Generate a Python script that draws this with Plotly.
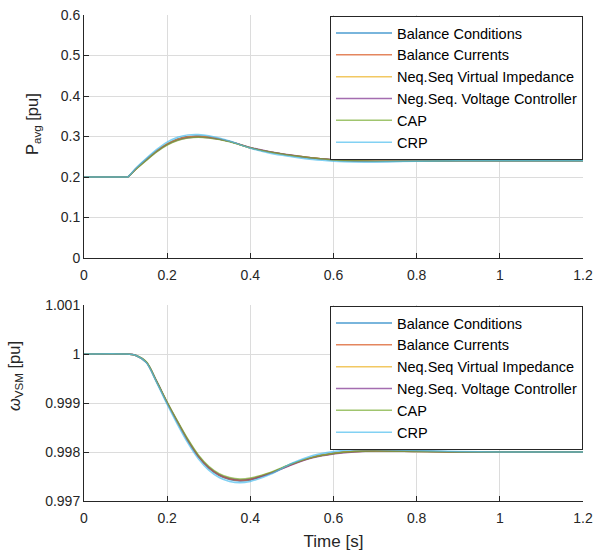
import plotly.graph_objects as go

# ---------------- data ----------------
series_names = ["Balance Conditions", "Balance Currents", "Neq.Seq Virtual Impedance",
                "Neg.Seq. Voltage Controller", "CAP", "CRP"]
series_colors = ["#0072BD", "#D95319", "#EDB120", "#7E2F8E", "#77AC30", "#4DBEEE"]

t_p = [0, 0.1, 0.105, 0.125, 0.15, 0.175, 0.2, 0.225, 0.25, 0.275, 0.3, 0.35, 0.4,
       0.45, 0.5, 0.55, 0.6, 0.65, 0.7, 0.8, 0.9, 1.0, 1.1, 1.2]
p_balance_conditions = [0.2, 0.2, 0.2, 0.221, 0.244, 0.265, 0.282, 0.294, 0.300, 0.301, 0.299, 0.288, 0.272,
                        0.261, 0.253, 0.246, 0.242, 0.239, 0.238, 0.239, 0.240, 0.240, 0.240, 0.240]
p_balance_currents = [0.2, 0.2, 0.2, 0.220, 0.243, 0.264, 0.281, 0.293, 0.299, 0.300, 0.298, 0.288, 0.272,
                      0.261, 0.253, 0.247, 0.242, 0.240, 0.239, 0.239, 0.240, 0.240, 0.240, 0.240]
p_neq_virtual_imp = [0.2, 0.2, 0.2, 0.220, 0.243, 0.264, 0.281, 0.292, 0.298, 0.300, 0.298, 0.288, 0.272,
                     0.261, 0.253, 0.247, 0.242, 0.240, 0.239, 0.239, 0.240, 0.240, 0.240, 0.240]
p_neg_voltage_ctrl = [0.2, 0.2, 0.2, 0.220, 0.242, 0.263, 0.280, 0.291, 0.297, 0.299, 0.297, 0.288, 0.273,
                      0.262, 0.254, 0.247, 0.243, 0.240, 0.239, 0.239, 0.240, 0.240, 0.240, 0.240]
p_cap = [0.2, 0.2, 0.2, 0.219, 0.241, 0.262, 0.279, 0.290, 0.296, 0.298, 0.296, 0.287, 0.272,
         0.261, 0.253, 0.247, 0.242, 0.240, 0.239, 0.239, 0.240, 0.240, 0.240, 0.240]
p_crp = [0.2, 0.2, 0.2, 0.222, 0.246, 0.268, 0.286, 0.298, 0.304, 0.305, 0.302, 0.289, 0.271,
         0.258, 0.250, 0.243, 0.239, 0.237, 0.237, 0.239, 0.240, 0.240, 0.240, 0.240]

t_w = [0, 0.1, 0.125, 0.15, 0.175, 0.2, 0.225, 0.25, 0.275, 0.3, 0.325, 0.35, 0.375, 0.4,
       0.45, 0.5, 0.55, 0.6, 0.65, 0.7, 0.8, 0.9, 1.0, 1.1, 1.2]
w_balance_conditions = [1.0, 1.0, 0.99997, 0.99983, 0.99943, 0.99900, 0.99860, 0.99822, 0.99790, 0.99767,
                        0.99752, 0.99744, 0.99741, 0.99743, 0.99757, 0.99776, 0.99790, 0.99798, 0.99802,
                        0.99803, 0.99802, 0.99800, 0.99800, 0.99800, 0.99800]
w_balance_currents = [1.0, 1.0, 0.99997, 0.99983, 0.99943, 0.99900, 0.99861, 0.99823, 0.99791, 0.99768,
                      0.99753, 0.99745, 0.99742, 0.99744, 0.99757, 0.99775, 0.99789, 0.99797, 0.99801,
                      0.99802, 0.99802, 0.99800, 0.99800, 0.99800, 0.99800]
w_neq_virtual_imp = [1.0, 1.0, 0.99997, 0.99983, 0.99943, 0.99901, 0.99861, 0.99824, 0.99792, 0.99769,
                     0.99754, 0.99746, 0.99743, 0.99745, 0.99758, 0.99775, 0.99789, 0.99797, 0.99801,
                     0.99802, 0.99801, 0.99800, 0.99800, 0.99800, 0.99800]
w_neg_voltage_ctrl = [1.0, 1.0, 0.99997, 0.99983, 0.99944, 0.99901, 0.99862, 0.99824, 0.99792, 0.99769,
                      0.99754, 0.99746, 0.99743, 0.99745, 0.99757, 0.99774, 0.99788, 0.99796, 0.99800,
                      0.99802, 0.99801, 0.99800, 0.99800, 0.99800, 0.99800]
w_cap = [1.0, 1.0, 0.99997, 0.99984, 0.99944, 0.99902, 0.99863, 0.99826, 0.99794, 0.99771,
         0.99756, 0.99748, 0.99745, 0.99747, 0.99759, 0.99776, 0.99789, 0.99797, 0.99801,
         0.99802, 0.99801, 0.99800, 0.99800, 0.99800, 0.99800]
w_crp = [1.0, 1.0, 0.99997, 0.99982, 0.99941, 0.99897, 0.99856, 0.99818, 0.99786, 0.99763,
         0.99748, 0.99740, 0.99737, 0.99740, 0.99755, 0.99777, 0.99793, 0.99801, 0.99805,
         0.99805, 0.99803, 0.99801, 0.99800, 0.99800, 0.99800]

p_series = [p_balance_conditions, p_balance_currents, p_neq_virtual_imp, p_neg_voltage_ctrl, p_cap, p_crp]
w_series = [w_balance_conditions, w_balance_currents, w_neq_virtual_imp, w_neg_voltage_ctrl, w_cap, w_crp]

x_ticks = [0, 0.2, 0.4, 0.6, 0.8, 1.0, 1.2]
x_ticktext = ["0", "0.2", "0.4", "0.6", "0.8", "1", "1.2"]
p_ticks = [0, 0.1, 0.2, 0.3, 0.4, 0.5, 0.6]
p_ticktext = ["0", "0.1", "0.2", "0.3", "0.4", "0.5", "0.6"]
w_ticks = [0.997, 0.998, 0.999, 1.0, 1.001]
w_ticktext = ["0.997", "0.998", "0.999", "1", "1.001"]

p_title = "P<sub>avg</sub> [pu]"
w_title = "<i>ω</i><sub>VSM</sub> [pu]"
x_title = "Time [s]"

# ---------------- figure ----------------
FONT = "Liberation Sans, Arial, sans-serif"
W, H = 596, 553
ml, mr, mt, mb = 84, 13, 15, 52
ph = H - mt - mb
pw = W - ml - mr
def py(pix):
    return (H - mb - pix) / ph
def px(pix):
    return (pix - ml) / pw

fig = go.Figure()
for name, col, p in zip(series_names, series_colors, p_series):
    fig.add_trace(go.Scatter(x=t_p, y=p, name=name, mode="lines", opacity=0.7,
                             line=dict(color=col, width=1.5, shape="spline", smoothing=0.8),
                             xaxis="x", yaxis="y", legend="legend"))
for name, col, w in zip(series_names, series_colors, w_series):
    fig.add_trace(go.Scatter(x=t_w, y=w, name=name, mode="lines", opacity=0.7,
                             line=dict(color=col, width=1.5, shape="spline", smoothing=0.8),
                             xaxis="x2", yaxis="y2", legend="legend2"))

axis_common = dict(showgrid=True, gridcolor="#dcdcdc", gridwidth=1, zeroline=False,
                   showline=True, linecolor="#262626", linewidth=1, ticks="inside",
                   ticklen=5, tickcolor="#262626", tickfont=dict(family=FONT, size=14, color="#262626"))

legend_common = dict(x=1, xanchor="right", yanchor="top", bgcolor="white",
                     bordercolor="#262626", borderwidth=1,
                     font=dict(family=FONT, size=14.5, color="#000"),
                     itemwidth=56, tracegroupgap=0)

fig.update_layout(
    width=W, height=H,
    margin=dict(l=ml, r=mr, t=mt, b=mb, autoexpand=False),
    paper_bgcolor="white", plot_bgcolor="white",
    font=dict(family=FONT, color="#262626"),
    xaxis=dict(domain=[0, 1], range=[0, 1.2], tickvals=x_ticks, ticktext=x_ticktext,
               anchor="y", ticklabelstandoff=4, **axis_common),
    yaxis=dict(domain=[py(258), 1], range=[0, 0.6], tickvals=p_ticks, ticktext=p_ticktext,
               anchor="x", **axis_common),
    xaxis2=dict(domain=[0, 1], range=[0, 1.2], tickvals=x_ticks, ticktext=x_ticktext,
                anchor="y2", ticklabelstandoff=4,
                title=dict(text=x_title, font=dict(size=17, family=FONT), standoff=10),
                **axis_common),
    yaxis2=dict(domain=[0, py(305)], range=[0.997, 1.001], tickvals=w_ticks, ticktext=w_ticktext,
                anchor="x2", **axis_common),
    legend=dict(y=py(16), **legend_common),
    legend2=dict(y=py(306), **legend_common),
    showlegend=True,
    annotations=[
        dict(text=p_title, xref="paper", yref="paper", x=px(33), y=py(124), textangle=-90,
             xanchor="center", yanchor="middle", showarrow=False,
             font=dict(family=FONT, size=16.5, color="#262626")),
        dict(text=w_title, xref="paper", yref="paper", x=px(15), y=py(376), textangle=-90,
             xanchor="center", yanchor="middle", showarrow=False,
             font=dict(family=FONT, size=16.5, color="#262626")),
    ],
)

fig.write_html("out.html", config={"displayModeBar": False},
               post_script="document.body.style.margin='0';document.body.style.overflow='hidden';")
